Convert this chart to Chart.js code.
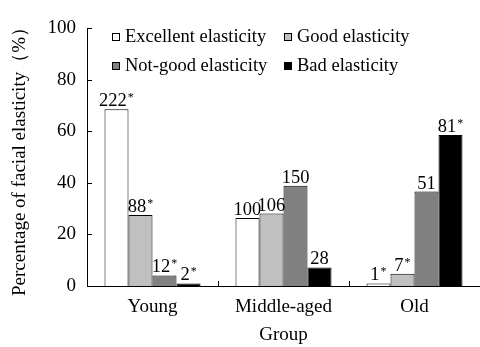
<!DOCTYPE html>
<html>
<head>
<meta charset="utf-8">
<script src="https://cdn.jsdelivr.net/npm/chart.js@4/dist/chart.umd.min.js"></script>
<style>
  html, body { margin: 0; padding: 0; background: #fff; }
  #wrap { width: 480px; height: 347px; }
</style>
</head>
<body>
<div id="wrap"><canvas id="myChart" width="480" height="347"></canvas></div>
<script>
// age groups on the x axis
const groups = ["Young", "Middle-aged", "Old"];
const seriesNames = ["Excellent elasticity", "Good elasticity", "Not-good elasticity", "Bad elasticity"];

// percentages
const excellent = [68.5, 26.4, 1.0];
const good = [27.5, 28.1, 4.7];
const notGood = [4.1, 38.9, 36.6];
const bad = [1.0, 7.2, 58.5];

// counts printed above each bar, star = significant
const excellentN = ["222", "100", "1"];
const goodN = ["88", "106", "7"];
const notGoodN = ["12", "150", "51"];
const badN = ["2", "28", "81"];
const excellentStar = [true, false, true];
const goodStar = [true, false, true];
const notGoodStar = [true, false, false];
const badStar = [true, false, true];

const yTicks = [0, 20, 40, 60, 80, 100];

const fills = ["#ffffff", "#c0c0c0", "#808080", "#000000"];
const FONT = "'Liberation Serif', 'Times New Roman', serif";

function makeSet(i, values, counts, stars) {
  return {
    label: seriesNames[i],
    data: values,
    counts: counts,
    stars: stars,
    backgroundColor: fills[i],
    borderColor: "#000",
    borderWidth: 1,
    barPercentage: 1.0,
    categoryPercentage: 0.733
  };
}

// small ticks pointing into the plot, like the original figure
const innerTicks = {
  id: "innerTicks",
  afterDraw(chart) {
    const ctx = chart.ctx;
    const area = chart.chartArea;
    const x = chart.scales.x, y = chart.scales.y;
    ctx.save();
    ctx.strokeStyle = "#000";
    ctx.lineWidth = 1;
    ctx.beginPath();
    for (let i = 0; i < y.ticks.length; i++) {
      let py = Math.round(y.getPixelForTick(i)) + 0.5;
      ctx.moveTo(area.left, py);
      ctx.lineTo(area.left + 5, py);
    }
    let half = (x.getPixelForValue(1) - x.getPixelForValue(0)) / 2;
    for (let i = 0; i < groups.length - 1; i++) {
      let px = Math.round(x.getPixelForValue(i) + half) + 0.5;
      ctx.moveTo(px, area.bottom);
      ctx.lineTo(px, area.bottom - 5);
    }
    ctx.stroke();
    ctx.restore();
  }
};

// numbers above bars with superscript asterisk
const barLabels = {
  id: "barLabels",
  afterDatasetsDraw(chart) {
    const ctx = chart.ctx;
    ctx.save();
    ctx.fillStyle = "#000";
    ctx.textBaseline = "alphabetic";
    ctx.textAlign = "left";
    chart.data.datasets.forEach((ds, di) => {
      const meta = chart.getDatasetMeta(di);
      meta.data.forEach((bar, i) => {
        const txt = ds.counts[i];
        ctx.font = "18.5px " + FONT;
        const w1 = ctx.measureText(txt).width;
        let w2 = 0;
        if (ds.stars[i]) {
          ctx.font = "12px " + FONT;
          w2 = ctx.measureText("*").width + 1;
        }
        const x0 = bar.x - (w1 + w2) / 2;
        const base = bar.y - 3;
        ctx.font = "18.5px " + FONT;
        ctx.fillText(txt, x0, base);
        if (ds.stars[i]) {
          ctx.font = "12px " + FONT;
          ctx.fillText("*", x0 + w1 + 1, base - 5);
        }
      });
    });
    ctx.restore();
  }
};

// 2 x 2 legend inside the plot
const gridLegend = {
  id: "gridLegend",
  afterDraw(chart) {
    const ctx = chart.ctx;
    const cols = [112, 284];
    const rows = [42, 71];
    ctx.save();
    ctx.font = "18.5px " + FONT;
    ctx.textBaseline = "alphabetic";
    ctx.textAlign = "left";
    chart.data.datasets.forEach((ds, i) => {
      const bx = cols[i % 2], by = rows[Math.floor(i / 2)];
      ctx.fillStyle = ds.backgroundColor;
      ctx.fillRect(bx, by - 9, 8, 8);
      ctx.strokeStyle = "#000";
      ctx.lineWidth = 1;
      ctx.strokeRect(bx + 0.5, by - 8.5, 7, 7);
      ctx.fillStyle = "#000";
      ctx.fillText(ds.label, bx + 13, by);
    });
    ctx.restore();
  }
};

const data = {
  labels: groups,
  datasets: [
    makeSet(0, excellent, excellentN, excellentStar),
    makeSet(1, good, goodN, goodStar),
    makeSet(2, notGood, notGoodN, notGoodStar),
    makeSet(3, bad, badN, badStar)
  ]
};

const config = {
  type: "bar",
  data: data,
  options: {
    responsive: false,
    animation: false,
    devicePixelRatio: 1,
    layout: { padding: { top: 28, right: 0, bottom: 0, left: 0 } },
    plugins: {
      legend: { display: false },
      tooltip: { enabled: false }
    },
    scales: {
      x: {
        grid: { display: false },
        border: { display: true, color: "#000", width: 1 },
        ticks: { color: "#000", font: { family: FONT, size: 19 }, padding: 2 },
        title: {
          display: true,
          text: "Group",
          color: "#000",
          font: { family: FONT, size: 19 },
          padding: { top: 0, bottom: 1 }
        },
        afterFit(scale) { scale.height = 61; }
      },
      y: {
        min: 0,
        max: 100,
        afterBuildTicks(scale) { scale.ticks = yTicks.map(v => ({ value: v })); },
        grid: { display: false },
        border: { display: true, color: "#000", width: 1 },
        ticks: { color: "#000", font: { family: FONT, size: 19 }, padding: 3 },
        title: {
          display: true,
          text: "Percentage of facial elasticity（%）",
          color: "#000",
          font: { family: FONT, size: 19 },
          padding: { top: 9, bottom: 0 }
        },
        afterFit(scale) { scale.width = 87; }
      }
    }
  },
  plugins: [innerTicks, barLabels, gridLegend]
};

const ctx = document.getElementById("myChart").getContext("2d");
const myChart = new Chart(ctx, config);
</script>
</body>
</html>
